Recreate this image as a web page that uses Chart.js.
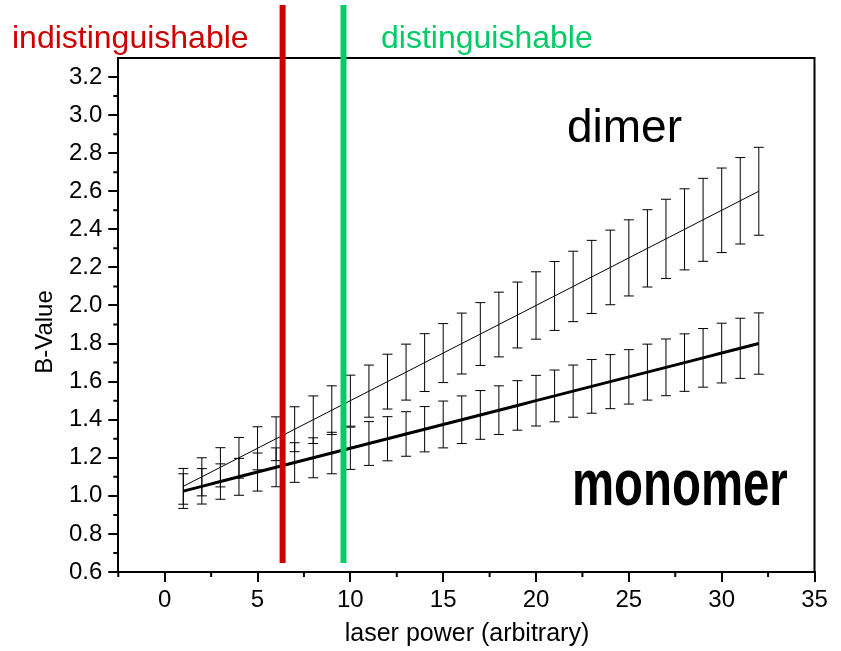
<!DOCTYPE html>
<html>
<head>
<meta charset="utf-8">
<script src="https://cdn.jsdelivr.net/npm/chart.js@4/dist/chart.umd.min.js"></script>
<style>
  html, body { margin: 0; padding: 0; background: #ffffff; }
  #wrap { width: 841px; height: 651px; }
</style>
</head>
<body>
<div id="wrap"><canvas id="chart" width="841" height="651"></canvas></div>
<script>
// Laser power steps (arbitrary units)
const laserPower = [1, 2, 3, 4, 5, 6, 7, 8, 9, 10, 11, 12, 13, 14, 15, 16,
                    17, 18, 19, 20, 21, 22, 23, 24, 25, 26, 27, 28, 29, 30, 31, 32];

// B-value of the dimer and its uncertainty
const dimerB = [1.05, 1.10, 1.15, 1.20, 1.25, 1.30, 1.35, 1.40, 1.45, 1.50, 1.55, 1.60,
                1.65, 1.70, 1.75, 1.80, 1.85, 1.90, 1.95, 2.00, 2.05, 2.10, 2.15, 2.20,
                2.25, 2.30, 2.35, 2.40, 2.45, 2.50, 2.55, 2.60];
const dimerErr = [0.094, 0.100, 0.103, 0.107, 0.113, 0.115, 0.118, 0.125, 0.128, 0.134, 0.137, 0.144,
                  0.147, 0.152, 0.155, 0.160, 0.165, 0.170, 0.173, 0.177, 0.181, 0.185, 0.192, 0.196,
                  0.200, 0.203, 0.208, 0.213, 0.218, 0.222, 0.227, 0.231];

// B-value of the monomer and its uncertainty
const monomerB = [1.025, 1.050, 1.075, 1.100, 1.125, 1.150, 1.175, 1.200, 1.225, 1.250, 1.275, 1.300,
                  1.325, 1.350, 1.375, 1.400, 1.425, 1.450, 1.475, 1.500, 1.525, 1.550, 1.575, 1.600,
                  1.625, 1.650, 1.675, 1.700, 1.725, 1.750, 1.775, 1.800];
const monomerErr = [0.091, 0.093, 0.093, 0.097, 0.100, 0.102, 0.104, 0.105, 0.109, 0.111, 0.115, 0.116,
                    0.117, 0.119, 0.123, 0.125, 0.128, 0.128, 0.130, 0.133, 0.136, 0.137, 0.141, 0.142,
                    0.143, 0.147, 0.149, 0.151, 0.154, 0.157, 0.158, 0.161];

// Axis ticks
const xTickValues = [0, 5, 10, 15, 20, 25, 30, 35];
const xMinorTicks = [-2.5, 2.5, 7.5, 12.5, 17.5, 22.5, 27.5, 32.5];
const yTickValues = [0.6, 0.8, 1.0, 1.2, 1.4, 1.6, 1.8, 2.0, 2.2, 2.4, 2.6, 2.8, 3.0, 3.2];
const yMinorTicks = [0.7, 0.9, 1.1, 1.3, 1.5, 1.7, 1.9, 2.1, 2.3, 2.5, 2.7, 2.9, 3.1];

// Laser power where the two species become distinguishable
const thresholdPower = [6.35, 9.63];
const thresholdColors = ['#cc0000', '#00cc66'];

const SANS = "'Liberation Sans', Arial, Helvetica, sans-serif";
const NARROW = "'Liberation Sans Narrow', 'Liberation Sans', Arial, sans-serif";

const toXY = (ys) => laserPower.map((x, i) => ({ x: x, y: ys[i] }));

// Vertical error bars with caps, drawn underneath the lines
const errorBars = {
  id: 'errorBars',
  beforeDatasetsDraw(chart) {
    const { ctx, scales: { x, y } } = chart;
    const sets = [[dimerB, dimerErr], [monomerB, monomerErr]];
    ctx.save();
    ctx.strokeStyle = '#000';
    ctx.lineWidth = 1;
    const cap = 5;
    sets.forEach(([vals, errs]) => {
      laserPower.forEach((p, i) => {
        const px = x.getPixelForValue(p);
        const top = y.getPixelForValue(vals[i] + errs[i]);
        const bot = y.getPixelForValue(vals[i] - errs[i]);
        ctx.beginPath();
        ctx.moveTo(px, top); ctx.lineTo(px, bot);
        ctx.moveTo(px - cap, top); ctx.lineTo(px + cap, top);
        ctx.moveTo(px - cap, bot); ctx.lineTo(px + cap, bot);
        ctx.stroke();
      });
    });
    ctx.restore();
  }
};

// Box frame, minor ticks, threshold lines and text annotations
const decorations = {
  id: 'decorations',
  afterDraw(chart) {
    const { ctx, chartArea: a, scales: { x, y } } = chart;
    ctx.save();
    // frame
    ctx.strokeStyle = '#000';
    ctx.lineWidth = 2;
    ctx.beginPath();
    ctx.moveTo(a.left, a.top); ctx.lineTo(a.right, a.top); ctx.lineTo(a.right, a.bottom);
    ctx.stroke();
    // minor ticks
    ctx.beginPath();
    xMinorTicks.forEach(v => {
      const px = x.getPixelForValue(v);
      ctx.moveTo(px, a.bottom); ctx.lineTo(px, a.bottom + 5);
    });
    yMinorTicks.forEach(v => {
      const py = y.getPixelForValue(v);
      ctx.moveTo(a.left, py); ctx.lineTo(a.left - 5, py);
    });
    ctx.stroke();

    // threshold lines
    thresholdPower.forEach((v, i) => {
      const px = x.getPixelForValue(v);
      ctx.strokeStyle = thresholdColors[i];
      ctx.lineWidth = 6;
      ctx.beginPath();
      ctx.moveTo(px, 5);
      ctx.lineTo(px, a.bottom - 9);
      ctx.stroke();
    });

    // labels
    ctx.textBaseline = 'alphabetic';
    ctx.textAlign = 'left';
    ctx.font = '32px ' + SANS;
    ctx.fillStyle = thresholdColors[0];
    ctx.fillText('indistinguishable', 12, 48);
    ctx.fillStyle = thresholdColors[1];
    ctx.fillText('distinguishable', 381, 48);

    ctx.fillStyle = '#000';
    ctx.font = '46px ' + SANS;
    ctx.fillText('dimer', 567, 142);

    ctx.save();
    ctx.translate(572, 505);
    ctx.scale(0.74, 1);
    ctx.font = 'bold 64px ' + SANS;
    ctx.fillText('monomer', 0, 0);
    ctx.restore();

    // axis titles
    ctx.font = '25px ' + SANS;
    ctx.textAlign = 'center';
    ctx.textBaseline = 'middle';
    ctx.fillText('laser power (arbitrary)', 467, 634);

    ctx.save();
    ctx.translate(45, 332);
    ctx.rotate(-Math.PI / 2);
    ctx.font = '24px ' + SANS;
    ctx.fillText('B-Value', 0, 0);
    ctx.restore();

    ctx.restore();
  }
};

new Chart(document.getElementById('chart'), {
  type: 'line',
  data: {
    datasets: [
      { label: 'dimer', data: toXY(dimerB), borderColor: '#000', borderWidth: 1,
        pointRadius: 0, fill: false, tension: 0 },
      { label: 'monomer', data: toXY(monomerB), borderColor: '#000', borderWidth: 3,
        pointRadius: 0, fill: false, tension: 0 }
    ]
  },
  options: {
    responsive: false,
    devicePixelRatio: 1,
    animation: false,
    layout: { padding: { top: 58, right: 26.5, left: 0, bottom: 0 } },
    plugins: { legend: { display: false }, tooltip: { enabled: false } },
    scales: {
      x: {
        type: 'linear',
        min: -2.5, max: 35,
        afterBuildTicks: s => { s.ticks = xTickValues.map(v => ({ value: v })); },
        afterFit: s => { s.height = 79; },
        ticks: { color: '#000', font: { family: NARROW, size: 24 }, padding: 4,
                 maxRotation: 0, autoSkip: false },
        grid: { drawOnChartArea: false, tickLength: 10, color: '#000', lineWidth: 2 },
        border: { color: '#000', width: 2 }
      },
      y: {
        type: 'linear',
        min: 0.6, max: 3.3,
        afterBuildTicks: s => { s.ticks = yTickValues.map(v => ({ value: v })); },
        afterFit: s => { s.width = 118.3; },
        ticks: { color: '#000', font: { family: NARROW, size: 24 }, padding: 6,
                 callback: v => v.toFixed(1) },
        grid: { drawOnChartArea: false, tickLength: 10, color: '#000', lineWidth: 2 },
        border: { color: '#000', width: 2 }
      }
    }
  },
  plugins: [errorBars, decorations]
});
</script>
</body>
</html>
